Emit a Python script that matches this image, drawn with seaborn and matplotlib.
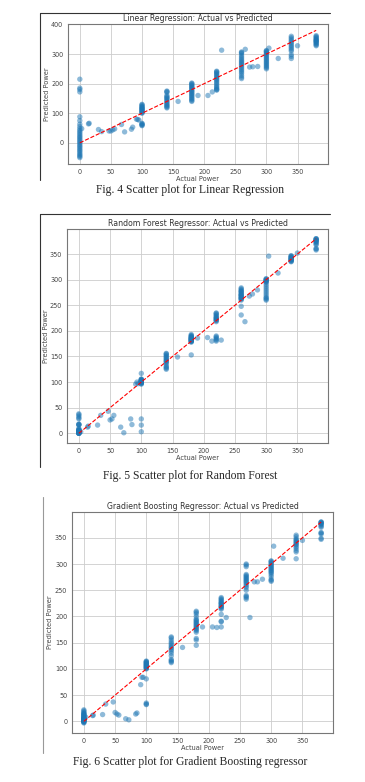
import matplotlib
matplotlib.use("Agg")
import matplotlib.pyplot as plt
from matplotlib.lines import Line2D
import seaborn as sns
import pandas as pd

# ---- data ----
# shared test set: actual power values (clusters at the common set points)
actual = (
    [0] * 30
    + [3, 14, 15, 30, 35, 47, 50, 53, 56, 67, 72, 83, 85, 91, 93, 95]
    + [100] * 20
    + [140] * 16
    + [158]
    + [180] * 20
    + [190, 206, 213]
    + [220] * 18
    + [228]
    + [260] * 20
    + [266, 273, 278, 286]
    + [300] * 18
    + [304, 319]
    + [340] * 14
    + [350]
    + [380] * 14
)

pred_lr = (
    [-50, -46, -42, -38, -33, -28, -24, -19, -14, -10,
     -5, 0, 4, 9, 13, 18, 22, 27, 32, 37,
     42, 48, 55, 63, 75, 88, 172, 180, 185, 215]
    + [48, 64, 66, 45, 38, 40, 40, 44, 47, 62, 37, 46, 53, 80, 79, 77]
    + [100, 102, 104, 106, 108, 110, 112, 114, 116, 118,
       120, 122, 125, 128, 130, 58, 60, 62, 64, 66]
    + [118, 121, 124, 127, 130, 134, 138, 142, 146, 150, 153, 156, 160, 170, 173, 175]
    + [140]
    + [140, 143, 147, 150, 154, 158, 161, 165, 168, 172,
       175, 178, 182, 185, 188, 191, 194, 197, 200, 202]
    + [160, 160, 172]
    + [178, 182, 186, 190, 195, 200, 205, 210, 214, 218, 222, 226, 230, 234, 237, 240, 242, 180]
    + [313]
    + [217, 222, 228, 235, 240, 245, 250, 255, 260, 264,
       268, 272, 276, 280, 285, 290, 295, 302, 305, 307]
    + [316, 256, 257, 258]
    + [250, 254, 258, 262, 266, 270, 274, 278, 282, 286, 290, 294, 298, 302, 305, 308, 310, 312]
    + [320, 285]
    + [285, 292, 298, 310, 315, 320, 325, 330, 335, 340, 345, 350, 355, 360]
    + [328]
    + [328, 331, 334, 337, 340, 342, 344, 346, 348, 350, 353, 356, 359, 362]
)

pred_rf = (
    [0, 0, 0, 1, 1, 2, 2, 3, 3, 4,
     5, 5, 6, 7, 8, 0, 1, 2, 16, 17,
     17, 18, 28, 30, 33, 36, 38, 0, 4, 9]
    + [3, 12, 14, 16, 35, 43, 26, 28, 35, 12, 1, 28, 17, 96, 100, 97]
    + [96, 98, 99, 100, 101, 102, 103, 104, 105, 97,
       100, 103, 106, 117, 105, 101, 28, 16, 3, 99]
    + [125, 127, 129, 131, 135, 138, 141, 143, 145, 147, 149, 151, 153, 155, 156, 140]
    + [149]
    + [178, 179, 180, 181, 182, 183, 184, 185, 186, 187,
       188, 189, 190, 191, 193, 180, 182, 184, 186, 153]
    + [186, 187, 180]
    + [218, 220, 222, 224, 226, 228, 230, 232, 234, 235, 221, 225, 180, 182, 184, 186, 188, 190]
    + [182]
    + [260, 262, 263, 265, 266, 268, 269, 270, 272, 274,
       276, 278, 280, 282, 284, 264, 271, 248, 231, 277]
    + [218, 268, 272, 280]
    + [260, 262, 264, 266, 270, 274, 278, 282, 286, 290, 294, 296, 298, 299, 300, 301, 302, 297]
    + [346, 313]
    + [335, 336, 337, 338, 339, 340, 341, 342, 343, 344, 345, 346, 347, 340]
    + [352]
    + [358, 360, 361, 368, 372, 375, 377, 378, 379, 380, 380, 376, 374, 370]
)

pred_gb = (
    [-3, -2, -1, 0, 0, 1, 1, 2, 2, 3,
     3, 4, 4, 5, 5, 6, 6, 7, 8, 9,
     10, 11, 12, 13, 14, 15, 16, 18, 20, 22]
    + [8, 11, 12, 13, 33, 37, 17, 14, 12, 5, 3, 14, 16, 70, 84, 84]
    + [100, 102, 104, 105, 106, 107, 108, 109, 110, 111,
       112, 113, 114, 115, 101, 103, 81, 35, 32, 33]
    + [112, 114, 116, 118, 125, 130, 134, 137, 140, 142, 145, 148, 151, 155, 159, 161]
    + [141]
    + [145, 155, 158, 170, 173, 175, 177, 179, 181, 183,
       185, 187, 189, 191, 193, 195, 200, 205, 208, 210]
    + [180, 180, 179]
    + [214, 216, 218, 220, 222, 224, 226, 228, 230, 232, 234, 236, 225, 219, 204, 190, 191, 180]
    + [198]
    + [233, 236, 238, 240, 250, 255, 258, 261, 264, 266,
       268, 270, 272, 274, 276, 278, 280, 295, 298, 300]
    + [198, 266, 266, 271]
    + [267, 269, 271, 276, 280, 283, 285, 287, 289, 291, 293, 295, 297, 299, 301, 303, 305, 306]
    + [334, 311]
    + [310, 323, 326, 330, 333, 336, 338, 340, 342, 344, 346, 348, 352, 355]
    + [345]
    + [347, 349, 357, 359, 360, 370, 372, 374, 376, 377, 378, 379, 380, 380]
)

titles = [
    "Linear Regression: Actual vs Predicted",
    "Random Forest Regressor: Actual vs Predicted",
    "Gradient Boosting Regressor: Actual vs Predicted",
]
captions = [
    "Fig. 4 Scatter plot for Linear Regression",
    "Fig. 5 Scatter plot for Random Forest",
    "Fig. 6 Scatter plot for Gradient Boosting regressor",
]

W, H = 365, 782
fig = plt.figure(figsize=(W / 100, H / 100), dpi=100)
sns.set_style("whitegrid")
plt.rcParams["font.family"] = ["DejaVu Sans"]


def px_box(left, right, top, bottom):
    # pixel box -> figure fraction rect
    return [left / W, (H - bottom) / H, (right - left) / W, (bottom - top) / H]


boxes = [
    px_box(68, 328, 24, 164),
    px_box(67, 328, 229, 443),
    px_box(72, 333, 512, 733),
]
caption_y = [190, 476, 762]

for i, preds in enumerate([pred_lr, pred_rf, pred_gb]):
    ax = fig.add_axes(boxes[i])
    df = pd.DataFrame({"Actual Power": actual, "Predicted Power": preds})
    sns.scatterplot(data=df, x="Actual Power", y="Predicted Power", ax=ax,
                    alpha=0.5, s=15, color="#1f77b4", edgecolor="none")
    lo, hi = min(actual), max(actual)
    ax.plot([lo, hi], [lo, hi], "r--", lw=0.8)
    ax.grid(True, color="#cccccc", lw=0.6)
    for sp in ax.spines.values():
        sp.set_color("#777777")
        sp.set_linewidth(0.8)
    ax.tick_params(labelsize=4.7, length=2, width=0.5, pad=1.5, colors="#444444")
    ax.set_title(titles[i], fontsize=5.6, pad=2, color="#333333")
    ax.set_xlabel("Actual Power", fontsize=4.8, labelpad=1, color="#444444")
    ax.set_ylabel("Predicted Power", fontsize=4.8, labelpad=1, color="#444444")
    fig.text(0.52, 1 - caption_y[i] / H, captions[i], ha="center", va="center",
             fontsize=8.4, family="Liberation Serif")

# screenshot frame lines
frames = [
    ((40, 330), (13, 13), "#333333"),
    ((40, 40), (13, 180), "#333333"),
    ((40, 330), (214, 214), "#333333"),
    ((40, 40), (214, 467), "#333333"),
    ((43, 43), (497, 753), "#999999"),
]
for xs, ys, c in frames:
    fig.add_artist(Line2D([x / W for x in xs], [1 - y / H for y in ys],
                          color=c, lw=0.8, transform=fig.transFigure))

fig.savefig("out.png", dpi=100)
